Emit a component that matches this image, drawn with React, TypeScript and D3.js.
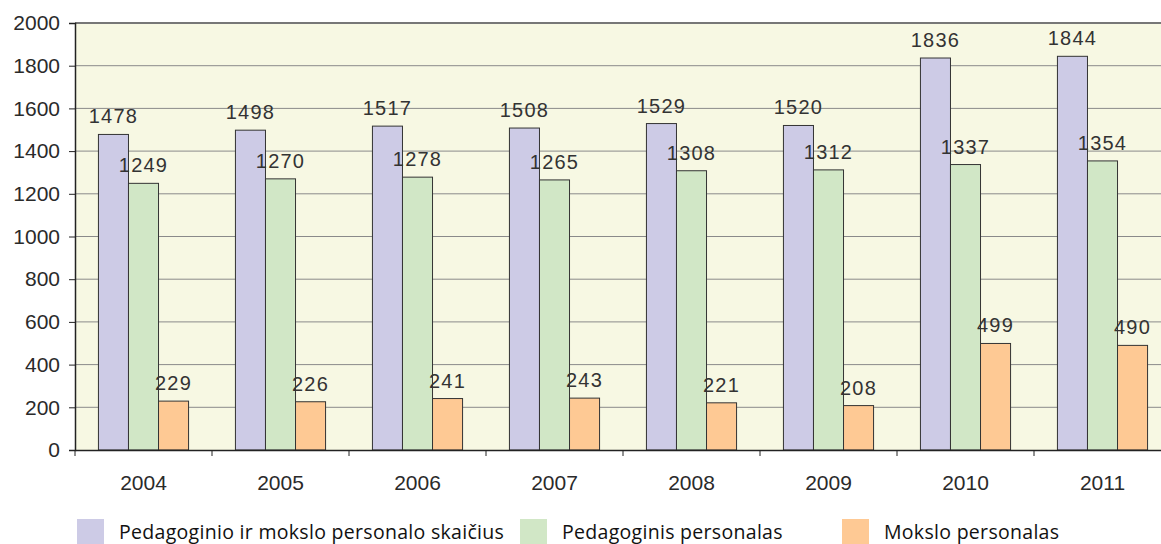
import React, { useEffect, useRef } from 'react';
import * as d3 from 'd3';

const years = ['2004', '2005', '2006', '2007', '2008', '2009', '2010', '2011'];
const totalStaff = [1478, 1498, 1517, 1508, 1529, 1520, 1836, 1844];
const teachingStaff = [1249, 1270, 1278, 1265, 1308, 1312, 1337, 1354];
const researchStaff = [229, 226, 241, 243, 221, 208, 499, 490];
const seriesNames = ['Pedagoginio ir mokslo personalo skaičius', 'Pedagoginis personalas', 'Mokslo personalas'];
const yTicks = [0, 200, 400, 600, 800, 1000, 1200, 1400, 1600, 1800, 2000];

function App() {
  const ref = useRef<SVGSVGElement>(null);

  useEffect(() => {
    const svg = d3.select(ref.current);
    svg.selectAll('*').remove();

    const left = 75, top = 23, bottom = 450, bandW = 137;
    const colors = ['#CDCBE6', '#D1E7C6', '#FEC994'];
    const series = [totalStaff, teachingStaff, researchStaff];
    const axisFont = 'Liberation Sans, Arial, sans-serif';

    const x = d3.scaleBand().domain(years).range([left, left + bandW * years.length]).padding(0);
    const y = d3.scaleLinear().domain([0, 2000]).range([bottom, top]);
    const inner = d3.scaleBand().domain(['0', '1', '2']).range([0, bandW]).paddingOuter(0.78).paddingInner(0);

    // plot background
    svg.append('rect')
      .attr('x', left).attr('y', top)
      .attr('width', x.range()[1] - left).attr('height', bottom - top)
      .attr('fill', '#F7F8E3');

    // grid
    svg.append('g').selectAll('line').data(yTicks.slice(1)).join('line')
      .attr('x1', left).attr('x2', x.range()[1])
      .attr('y1', d => y(d)).attr('y2', d => y(d))
      .attr('stroke', d => d === 2000 ? '#777' : '#8a8a8a')
      .attr('stroke-width', d => d === 2000 ? 2 : 1);

    // bars
    series.forEach((vals, si) => {
      const g = svg.append('g');
      g.selectAll('rect').data(vals).join('rect')
        .attr('x', (_, i) => x(years[i])! + inner(String(si))!)
        .attr('y', d => y(d))
        .attr('width', inner.bandwidth())
        .attr('height', d => bottom - y(d))
        .attr('fill', colors[si])
        .attr('stroke', '#333')
        .attr('stroke-width', 1);
      g.selectAll('text').data(vals).join('text')
        .attr('x', (_, i) => x(years[i])! + inner(String(si))! + inner.bandwidth() / 2)
        .attr('y', d => y(d) - 11)
        .attr('text-anchor', 'middle')
        .attr('font-family', 'Liberation Sans, sans-serif')
        .attr('font-size', 20)
        .attr('letter-spacing', 1.2)
        .attr('fill', '#333')
        .text(d => d);
    });

    // y axis
    const ya = svg.append('g').attr('transform', `translate(${left},0)`)
      .call(d3.axisLeft(y).tickValues(yTicks).tickFormat(d3.format('d')).tickSize(6).tickPadding(9));
    ya.select('.domain').attr('stroke', '#222').attr('stroke-width', 1.5);
    ya.selectAll('line').attr('stroke', '#222');
    ya.selectAll('text').attr('font-family', axisFont).attr('font-size', 21).attr('fill', '#2a2a2a');

    // x axis
    const xa = svg.append('g').attr('transform', `translate(0,${bottom})`)
      .call(d3.axisBottom(x).tickSize(0).tickPadding(25));
    xa.select('.domain').attr('stroke', '#222').attr('stroke-width', 1.5);
    xa.selectAll('text').attr('font-family', axisFont).attr('font-size', 21).attr('fill', '#2a2a2a');
    svg.append('g').selectAll('line').data(years.map((_, i) => i)).join('line')
      .attr('x1', i => left + i * bandW).attr('x2', i => left + i * bandW)
      .attr('y1', bottom).attr('y2', bottom + 6)
      .attr('stroke', '#222');

    // legend
    const legendX = [77, 520, 842];
    const lg = svg.append('g');
    seriesNames.forEach((name, i) => {
      lg.append('rect').attr('x', legendX[i]).attr('y', 519).attr('width', 27).attr('height', 27).attr('fill', colors[i]);
      lg.append('text').attr('x', legendX[i] + 42).attr('y', 539)
        .attr('font-family', 'Open Sans, Noto Sans, sans-serif')
        .attr('font-size', 19.5)
        .attr('letter-spacing', 0.3)
        .attr('fill', '#111')
        .text(name);
    });
  }, []);

  return (
    <svg ref={ref} width={1161} height={544} style={{ position: 'absolute', left: 0, top: 0, background: '#fff' }}></svg>
  );
}

export default App;
